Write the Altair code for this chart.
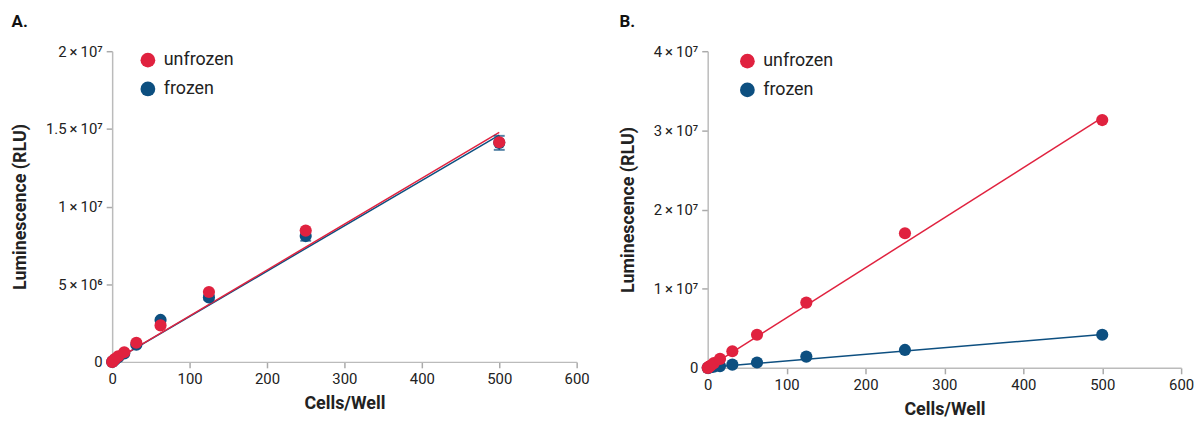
import altair as alt
import pandas as pd

# ---- data ----
cells = [0, 0.98, 1.95, 3.9, 7.8, 15.6, 31.25, 62.5, 125, 250, 500]
groups = ["unfrozen", "frozen"]
colors = ["#E0223F", "#0D4F80"]

# Panel A (RLU)
a_unfrozen = [0, 0.05e6, 0.1e6, 0.2e6, 0.36e6, 0.62e6, 1.23e6, 2.35e6, 4.5e6, 8.45e6, 14.14e6]
a_frozen = [0, 0.04e6, 0.08e6, 0.15e6, 0.3e6, 0.55e6, 1.1e6, 2.7e6, 4.15e6, 8.1e6, 14.1e6]
a_frozen_err = [0, 0, 0, 0, 0, 0.02e6, 0.05e6, 0.1e6, 0.15e6, 0.3e6, 0.45e6]
a_fit_x = [0, 500]
a_fit_unfrozen = [0, 14.78e6]
a_fit_frozen = [0, 14.6e6]

# Panel B (RLU)
b_unfrozen = [0, 0.07e6, 0.15e6, 0.3e6, 0.6e6, 1.13e6, 2.09e6, 4.18e6, 8.24e6, 17.0e6, 31.3e6]
b_frozen = [0, 0.02e6, 0.04e6, 0.08e6, 0.15e6, 0.22e6, 0.4e6, 0.67e6, 1.42e6, 2.26e6, 4.18e6]
b_fit_x = [0, 500]
b_fit_unfrozen = [0, 31.6e6]
b_fit_frozen = [0.05e6, 4.2e6]

FONT = "Roboto"
TS = "\u2009"

label_expr = (
    "datum.value == 0 ? '0' : "
    "format(datum.value / pow(10, floor(log(datum.value) / LN10 + 1e-9)), '~g') + '" + TS + "×" + TS + "10' + "
    "(floor(log(datum.value) / LN10 + 1e-9) == 7 ? '⁷' : '⁶')"
)


def panel(title, unf, fro, fit_x, fit_unf, fit_fro, ymax, ystep, w, h, lx, ly, ytp, err=None):
    pts = pd.DataFrame(
        {"x": cells * 2, "y": fro + unf, "g": ["frozen"] * len(cells) + ["unfrozen"] * len(cells)}
    )
    fit = pd.DataFrame(
        {"x": fit_x * 2, "y": fit_fro + fit_unf, "g": ["frozen"] * 2 + ["unfrozen"] * 2}
    )
    color = alt.Color(
        "g:N",
        scale=alt.Scale(domain=groups, range=colors),
        legend=alt.Legend(
            title=None,
            orient="none",
            legendX=lx,
            legendY=ly,
            symbolType="circle",
            symbolSize=220,
            symbolStrokeWidth=0,
            labelFont=FONT,
            labelFontSize=18,
            labelColor="#222",
            labelOffset=7,
            rowPadding=11,
            padding=0,
        ),
    )
    xscale = alt.Scale(domain=[0, 600], nice=False, padding=0)
    yscale = alt.Scale(domain=[0, ymax], nice=False, padding=0)
    xenc = alt.X(
        "x:Q",
        scale=xscale,
        axis=alt.Axis(values=list(range(0, 601, 100)), title="Cells/Well", labelFlush=False),
    )
    yvals = [i * ystep for i in range(int(round(ymax / ystep)) + 1)]
    yenc = alt.Y(
        "y:Q",
        scale=yscale,
        axis=alt.Axis(values=yvals, labelExpr=label_expr, title="Luminescence (RLU)", titlePadding=ytp),
    )
    lines = alt.Chart(fit).mark_line(strokeWidth=1.5).encode(x=xenc, y=yenc, color=color, detail="g:N")
    layers = [lines]
    if err is not None:
        edf = pd.DataFrame(
            {"x": cells, "lo": [v - e for v, e in zip(fro, err)], "hi": [v + e for v, e in zip(fro, err)]}
        )
        stem = alt.Chart(edf).mark_rule(color=colors[1], strokeWidth=1.5).encode(
            x=alt.X("x:Q", scale=xscale), y=alt.Y("lo:Q", scale=yscale), y2="hi:Q"
        )
        cap_lo = alt.Chart(edf).mark_tick(color=colors[1], orient="horizontal", size=11, thickness=2).encode(
            x=alt.X("x:Q", scale=xscale), y=alt.Y("lo:Q", scale=yscale)
        )
        cap_hi = alt.Chart(edf).mark_tick(color=colors[1], orient="horizontal", size=11, thickness=2).encode(
            x=alt.X("x:Q", scale=xscale), y=alt.Y("hi:Q", scale=yscale)
        )
        layers += [stem, cap_lo, cap_hi]
    points = alt.Chart(pts).mark_circle(size=150, opacity=1).encode(x=xenc, y=yenc, color=color)
    layers.append(points)
    return alt.layer(*layers).properties(
        width=w,
        height=h,
        title=alt.TitleParams(
            title,
            anchor="start",
            frame="bounds",
            font=FONT,
            fontSize=17,
            fontWeight="bold",
            color="#111",
            offset=13,
        ),
    )


chart_a = panel("A.", a_unfrozen, a_frozen, a_fit_x, a_fit_unfrozen, a_fit_frozen,
                2e7, 5e6, 468, 313, 27, 0, 16, err=a_frozen_err)
chart_b = panel("B.", b_unfrozen, b_frozen, b_fit_x, b_fit_unfrozen, b_fit_frozen,
                4e7, 1e7, 477, 319, 31, 1, 16)

chart = (
    alt.hconcat(chart_a, chart_b, spacing=30)
    .resolve_scale(color="independent")
    .configure_view(stroke=None)
    .configure_axis(
        grid=False,
        domainColor="#bbbbbb",
        domainWidth=1.5,
        tickColor="#aaaaaa",
        tickSize=6,
        tickWidth=1.5,
        labelFont=FONT,
        labelFontSize=15,
        labelColor="#222",
        labelPadding=4,
        titleFont=FONT,
        titleFontSize=18,
        titleFontWeight="bold",
        titleColor="#222",
    )
    .configure_axisX(titlePadding=8)
    .properties(background="white", padding={"left": 11, "top": 12, "right": 5, "bottom": 5})
)

chart.save("out.html", embed_options={"renderer": "svg", "actions": False})
